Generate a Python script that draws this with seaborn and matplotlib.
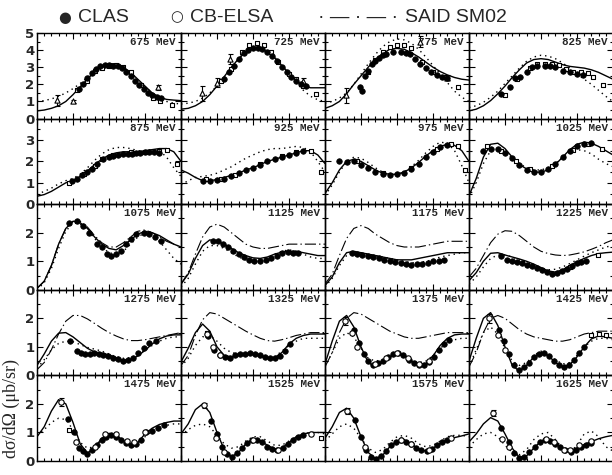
import matplotlib
matplotlib.use("Agg")
import matplotlib.pyplot as plt
from matplotlib.ticker import MultipleLocator
import seaborn as sns

sns.set_theme(style="white")
plt.rcParams['font.family'] = ['Liberation Sans', 'DejaVu Sans']
plt.rcParams['lines.scale_dashes'] = False

# ---------------- data ----------------
COS = [-1.0, -0.9, -0.8, -0.7, -0.6, -0.5, -0.4, -0.3, -0.2, -0.1, 0.0,
       0.1, 0.2, 0.3, 0.4, 0.5, 0.6, 0.7, 0.8, 0.9, 1.0]
ENERGIES = [675, 725, 775, 825, 875, 925, 975, 1025, 1075, 1125, 1175, 1225,
            1275, 1325, 1375, 1425, 1475, 1525, 1575, 1625]
ROW_YMAX = [5, 4, 3, 3, 3]

# 675 MeV
S675 = [0.45,0.5,0.6,0.75,1.0,1.4,1.85,2.3,2.75,3.05,3.2,3.2,3.0,2.7,2.3,1.9,1.5,1.25,1.12,1.08,1.05]
D675 = [1.0,1.05,1.15,1.3,1.5,1.75,2.05,2.4,2.75,3.05,3.2,3.2,3.0,2.65,2.25,1.85,1.5,1.2,1.0,0.9,0.85]
C675_X = [-0.42,-0.36,-0.3,-0.24,-0.18,-0.12,-0.06,0.0,0.06,0.12,0.18,0.24,0.3,0.36,0.42,0.48,0.54,0.6,0.66,0.72]
C675_Y = [1.75,2.0,2.35,2.65,2.9,3.05,3.15,3.15,3.1,3.05,2.95,2.75,2.5,2.2,1.95,1.7,1.5,1.35,1.25,1.2]
Q675_X = [-0.45,-0.3,-0.2,-0.1,0.0,0.1,0.2,0.3,0.45,0.61,0.71,0.88]
Q675_Y = [1.65,2.2,2.8,2.95,3.1,3.15,3.0,2.7,1.95,1.2,1.0,0.8]
T675_X = [-0.72,-0.5,0.68]
T675_Y = [1.06,1.0,1.84]
T675_E = [0.3,0.1,0.15]

# 725 MeV
S725 = [0.55,0.6,0.75,1.0,1.4,1.9,2.45,3.0,3.5,3.9,4.1,4.1,3.9,3.55,3.1,2.65,2.2,1.9,1.8,1.8,1.8]
D725 = [0.85,0.9,1.0,1.2,1.5,1.9,2.4,2.95,3.5,3.95,4.2,4.2,4.0,3.6,3.1,2.6,2.1,1.65,1.3,1.1,1.0]
C725_X = [-0.4,-0.33,-0.27,-0.2,-0.13,-0.07,0.0,0.07,0.13,0.2,0.27,0.33,0.4,0.47,0.53,0.6,0.67,0.73]
C725_Y = [2.3,2.7,3.1,3.5,3.85,4.0,4.1,4.1,4.05,3.9,3.65,3.35,3.0,2.7,2.45,2.2,2.0,1.9]
Q725_X = [-0.45,-0.3,-0.15,-0.05,0.05,0.15,0.25,0.35,0.5,0.6,0.7,0.87]
Q725_Y = [2.2,2.9,3.9,4.3,4.4,4.3,3.9,3.3,2.6,2.3,1.9,1.45]
T725_X = [-0.71,-0.5,-0.32,0.69]
T725_Y = [1.47,2.1,3.5,2.2]
T725_E = [0.45,0.25,0.3,0.2]

# 775 MeV
S775 = [0.6,0.75,1.0,1.45,2.0,2.5,3.0,3.45,3.8,4.05,4.1,4.05,3.85,3.6,3.3,3.0,2.75,2.55,2.4,2.3,2.25]
D775 = [0.9,1.0,1.2,1.5,2.0,2.6,3.2,3.75,4.2,4.5,4.65,4.6,4.4,4.05,3.6,3.1,2.6,2.1,1.6,1.25,1.0]
C775_X = [-0.51,-0.48,-0.45,-0.4,-0.35,-0.3,-0.25,-0.2,-0.15,-0.05,0.05,0.12,0.18,0.25,0.32,0.4,0.47,0.55,0.62,0.69]
C775_Y = [1.85,1.6,2.5,2.8,3.2,3.35,3.55,3.7,3.8,3.9,3.9,3.85,3.75,3.5,3.2,2.95,2.7,2.55,2.45,2.35]
Q775_X = [-0.4,-0.3,-0.2,-0.1,0.0,0.1,0.2,0.35,0.5,0.65,0.85]
Q775_Y = [2.7,3.4,3.9,4.2,4.3,4.3,4.1,3.3,2.7,2.45,1.85]
T775_X = [-0.71,0.32,0.69]
T775_Y = [1.35,4.5,2.4]
T775_E = [0.45,0.3,0.15]

# 825 MeV
S825 = [0.45,0.55,0.75,1.05,1.45,1.9,2.4,2.85,3.25,3.45,3.5,3.45,3.3,3.15,3.05,3.0,2.95,2.85,2.7,2.5,2.3]
D825 = [0.65,0.75,0.95,1.25,1.6,2.05,2.5,2.95,3.35,3.6,3.7,3.65,3.5,3.25,2.95,2.6,2.3,2.0,1.65,1.3,1.0]
C825_X = [-0.55,-0.43,-0.36,-0.29,-0.2,-0.13,-0.05,0.05,0.12,0.2,0.31,0.4,0.5,0.58]
C825_Y = [1.45,1.85,2.35,2.45,2.75,3.0,3.05,3.05,3.05,3.0,2.8,2.7,2.6,2.55]
Q825_X = [-0.5,-0.33,-0.15,-0.05,0.05,0.15,0.25,0.35,0.45,0.55,0.65,0.72,0.86]
Q825_Y = [1.35,2.3,2.95,3.2,3.2,3.2,3.15,2.9,2.75,2.7,2.65,2.45,1.95]

# 875 MeV
S875 = [0.37,0.45,0.6,0.8,1.0,1.1,1.3,1.55,1.85,2.1,2.3,2.4,2.45,2.45,2.45,2.5,2.55,2.6,2.6,2.45,2.0]
D875 = [0.45,0.6,0.75,0.95,1.1,1.2,1.4,1.7,2.05,2.35,2.55,2.65,2.65,2.6,2.5,2.5,2.55,2.5,2.2,1.7,1.3]
C875_X = [-0.52,-0.44,-0.38,-0.31,-0.24,-0.17,-0.08,0.0,0.06,0.13,0.2,0.26,0.32,0.38,0.43,0.5,0.55,0.62,0.7]
C875_Y = [1.08,1.2,1.35,1.5,1.65,1.9,2.1,2.2,2.25,2.3,2.35,2.35,2.35,2.4,2.4,2.45,2.45,2.45,2.4]
Q875_X = [-0.55,-0.35,-0.2,-0.1,0.05,0.3,0.5,0.7,0.8,0.95]
Q875_Y = [1.0,1.4,1.8,2.1,2.3,2.45,2.45,2.5,2.55,1.9]

# 925 MeV
S925 = [1.6,1.45,1.25,1.1,1.1,1.15,1.25,1.35,1.45,1.6,1.7,1.85,2.0,2.1,2.2,2.3,2.4,2.5,2.5,2.3,1.9]
D925 = [0.9,1.1,1.25,1.3,1.35,1.45,1.6,1.75,1.95,2.15,2.3,2.45,2.55,2.6,2.6,2.65,2.7,2.65,2.45,2.0,1.5]
C925_X = [-0.7,-0.6,-0.5,-0.4,-0.3,-0.2,-0.1,0.0,0.1,0.2,0.3,0.4,0.5,0.6,0.7]
C925_Y = [1.1,1.1,1.15,1.2,1.3,1.45,1.6,1.7,1.85,2.0,2.1,2.2,2.3,2.4,2.5]
Q925_X = [-0.65,-0.45,-0.25,0.1,0.4,0.6,0.8,0.95]
Q925_Y = [1.2,1.2,1.35,1.9,2.25,2.45,2.5,1.5]

# 975 MeV
S975 = [0.5,1.0,1.6,2.0,2.1,2.0,1.8,1.6,1.45,1.4,1.4,1.5,1.7,1.95,2.25,2.5,2.7,2.8,2.75,2.5,2.0]
D975 = [0.4,0.9,1.5,2.0,2.2,2.15,1.95,1.7,1.5,1.4,1.4,1.5,1.75,2.05,2.4,2.7,2.9,2.85,2.5,1.8,1.0]
C975_X = [-0.8,-0.7,-0.6,-0.5,-0.4,-0.3,-0.2,-0.1,0.0,0.1,0.2,0.3,0.4,0.5,0.6,0.7]
C975_Y = [2.0,1.95,2.0,1.85,1.7,1.5,1.4,1.35,1.4,1.45,1.65,1.9,2.2,2.45,2.65,2.75]
Q975_X = [-0.55,-0.2,0.2,0.55,0.75,0.85,0.95]
Q975_Y = [2.0,1.45,1.7,2.6,2.8,2.7,1.6]

# 1025 MeV
S1025 = [0.4,1.2,2.2,2.8,2.85,2.6,2.2,1.85,1.65,1.5,1.5,1.6,1.85,2.2,2.55,2.8,2.9,2.85,2.7,2.5,2.3]
D1025 = [0.3,1.0,1.9,2.5,2.6,2.45,2.15,1.9,1.7,1.6,1.6,1.7,1.9,2.2,2.45,2.55,2.5,2.35,2.1,1.9,1.75]
C1025_X = [-0.8,-0.7,-0.6,-0.5,-0.4,-0.3,-0.2,-0.1,0.0,0.1,0.2,0.3,0.4,0.5,0.6,0.7]
C1025_Y = [2.5,2.6,2.6,2.4,2.15,1.85,1.6,1.5,1.5,1.65,1.9,2.2,2.5,2.7,2.8,2.85]
Q1025_X = [-0.75,-0.55,-0.35,-0.15,0.15,0.45,0.65,0.85]
Q1025_Y = [2.7,2.5,2.0,1.65,1.8,2.55,2.8,2.6]

# 1075 MeV
S1075 = [0.05,0.3,0.85,1.6,2.15,2.4,2.35,2.15,1.85,1.6,1.45,1.4,1.55,1.75,1.95,2.05,2.0,1.9,1.75,1.6,1.5]
A1075 = [0.05,0.3,0.85,1.6,2.15,2.4,2.4,2.2,1.9,1.65,1.5,1.5,1.65,1.85,2.05,2.1,2.0,1.85,1.7,1.6,1.5]
D1075 = [0.0,0.25,0.75,1.45,2.05,2.35,2.3,2.1,1.8,1.5,1.3,1.25,1.35,1.6,1.85,2.0,1.9,1.7,1.4,1.1,0.9]
C1075_X = [-0.55,-0.45,-0.36,-0.28,-0.17,-0.1,-0.03,0.03,0.1,0.16,0.23,0.3,0.37,0.48,0.55,0.64,0.72]
C1075_Y = [2.33,2.4,2.25,2.0,1.6,1.5,1.25,1.2,1.25,1.37,1.6,1.78,1.95,2.0,1.95,1.84,1.7]

# 1125 MeV
S1125 = [0.2,0.55,1.1,1.55,1.75,1.7,1.6,1.45,1.3,1.2,1.12,1.1,1.15,1.25,1.32,1.35,1.35,1.3,1.25,1.2,1.2]
A1125 = [0.2,0.6,1.25,1.85,2.2,2.3,2.2,2.0,1.8,1.6,1.5,1.45,1.45,1.5,1.55,1.6,1.6,1.6,1.6,1.6,1.6]
D1125 = [0.1,0.4,0.9,1.35,1.55,1.55,1.45,1.3,1.15,1.05,1.0,1.0,1.1,1.25,1.35,1.4,1.35,1.25,1.15,1.1,1.1]
C1125_X = [-0.55,-0.49,-0.42,-0.35,-0.28,-0.2,-0.13,-0.05,0.02,0.1,0.18,0.25,0.33,0.4,0.48,0.55,0.62]
C1125_Y = [1.7,1.7,1.6,1.5,1.35,1.25,1.15,1.05,1.0,1.0,1.05,1.12,1.2,1.28,1.32,1.3,1.3]

# 1175 MeV
S1175 = [0.15,0.45,0.95,1.3,1.35,1.3,1.25,1.2,1.15,1.1,1.05,1.05,1.05,1.1,1.15,1.2,1.25,1.3,1.3,1.3,1.3]
A1175 = [0.2,0.55,1.2,1.8,2.15,2.25,2.15,1.95,1.8,1.65,1.55,1.5,1.5,1.5,1.55,1.6,1.65,1.7,1.7,1.7,1.7]
D1175 = [0.1,0.4,0.85,1.2,1.3,1.3,1.25,1.2,1.15,1.1,1.05,1.0,0.95,0.95,1.0,1.05,1.15,1.2,1.25,1.3,1.3]
C1175_X = [-0.62,-0.55,-0.48,-0.4,-0.33,-0.25,-0.18,-0.1,-0.03,0.05,0.12,0.2,0.28,0.35,0.43,0.5,0.58,0.65]
C1175_Y = [1.3,1.25,1.22,1.18,1.15,1.1,1.05,1.0,0.97,0.93,0.9,0.88,0.9,0.92,0.95,1.0,1.02,1.05]

# 1225 MeV
S1225 = [0.32,0.6,1.0,1.28,1.3,1.22,1.15,1.08,1.0,0.9,0.78,0.66,0.62,0.7,0.85,0.98,1.1,1.2,1.27,1.3,1.32]
A1225 = [0.45,0.75,1.2,1.65,1.95,2.07,2.05,1.9,1.7,1.5,1.35,1.27,1.22,1.2,1.22,1.27,1.33,1.42,1.52,1.65,1.75]
D1225 = [0.2,0.45,0.8,1.1,1.22,1.22,1.15,1.05,0.95,0.85,0.75,0.7,0.72,0.8,0.92,1.05,1.18,1.3,1.4,1.5,1.55]
C1225_X = [-0.55,-0.47,-0.4,-0.33,-0.26,-0.2,-0.13,-0.06,0.01,0.08,0.15,0.22,0.29,0.36,0.43,0.5,0.56,0.63]
C1225_Y = [1.19,1.05,1.0,0.97,0.93,0.88,0.83,0.75,0.7,0.63,0.57,0.6,0.65,0.73,0.85,0.93,0.98,1.02]
Q1225_X = [0.4,0.79]
Q1225_Y = [0.8,1.23]

# 1275 MeV
S1275 = [0.35,0.75,1.2,1.48,1.5,1.35,1.15,0.95,0.82,0.78,0.72,0.62,0.53,0.55,0.68,0.88,1.1,1.28,1.38,1.42,1.42]
A1275 = [0.2,0.45,0.9,1.45,1.9,2.1,2.1,1.98,1.82,1.65,1.5,1.38,1.28,1.22,1.22,1.25,1.3,1.35,1.4,1.45,1.5]
D1275 = [0.25,0.55,0.9,1.12,1.2,1.18,1.08,0.98,0.92,0.85,0.75,0.65,0.6,0.62,0.72,0.88,1.05,1.2,1.3,1.35,1.35]
C1275_X = [-0.54,-0.45,-0.39,-0.33,-0.27,-0.21,-0.14,-0.08,-0.01,0.06,0.13,0.2,0.27,0.33,0.4,0.48,0.56,0.65]
C1275_Y = [1.22,0.87,0.78,0.74,0.76,0.78,0.76,0.72,0.67,0.62,0.56,0.52,0.53,0.62,0.78,0.95,1.12,1.2]

# 1325 MeV
S1325 = [0.47,0.95,1.5,1.8,1.55,1.0,0.7,0.65,0.7,0.75,0.75,0.68,0.6,0.62,0.8,1.1,1.3,1.4,1.45,1.45,1.45]
A1325 = [0.35,0.7,1.4,1.95,2.2,2.15,2.0,1.85,1.7,1.55,1.42,1.3,1.22,1.2,1.25,1.32,1.4,1.45,1.5,1.5,1.5]
D1325 = [0.3,0.6,1.05,1.35,1.4,1.2,0.95,0.8,0.75,0.72,0.68,0.62,0.58,0.65,0.85,1.05,1.2,1.3,1.3,1.3,1.3]
C1325_X = [-0.62,-0.54,-0.46,-0.39,-0.32,-0.25,-0.18,-0.11,-0.04,0.03,0.1,0.17,0.24,0.31,0.38,0.45,0.52]
C1325_Y = [1.37,0.9,0.7,0.64,0.62,0.7,0.74,0.76,0.77,0.75,0.7,0.65,0.6,0.6,0.68,0.85,1.1]
B1325_X = [-0.64,-0.55,-0.46]
B1325_Y = [1.46,0.99,0.7]
B1325_E = [0.1,0.0,0.0]
Q1325_X = [-0.64]
Q1325_Y = [1.5]

# 1375 MeV
S1375 = [0.4,1.2,1.9,2.1,1.7,1.0,0.45,0.3,0.45,0.65,0.75,0.68,0.5,0.38,0.42,0.68,1.05,1.3,1.42,1.45,1.45]
A1375 = [0.3,0.8,1.5,2.0,2.2,2.15,2.0,1.85,1.7,1.55,1.45,1.35,1.3,1.3,1.35,1.4,1.45,1.5,1.5,1.5,1.5]
D1375 = [0.3,0.8,1.3,1.5,1.35,0.95,0.6,0.5,0.55,0.7,0.78,0.72,0.55,0.45,0.5,0.7,0.95,1.15,1.25,1.3,1.3]
C1375_X = [-0.6,-0.53,-0.46,-0.4,-0.33,-0.26,-0.19,-0.12,-0.05,0.02,0.09,0.16,0.23,0.3,0.37,0.44,0.51,0.58,0.65,0.72]
C1375_Y = [1.6,1.15,0.75,0.5,0.38,0.42,0.52,0.65,0.75,0.78,0.7,0.55,0.45,0.38,0.38,0.48,0.65,0.9,1.1,1.25]
B1375_X = [-0.72,-0.62,-0.55,-0.3,-0.15,0.0,0.15,0.3,0.45]
B1375_Y = [1.9,1.5,1.0,0.4,0.6,0.8,0.6,0.4,0.5]
B1375_E = [0.15,0,0,0,0,0,0,0,0]

# 1425 MeV
S1425 = [0.5,1.3,2.0,2.2,1.75,1.0,0.35,0.15,0.35,0.65,0.8,0.7,0.45,0.3,0.38,0.65,1.0,1.28,1.38,1.35,1.3]
A1425 = [0.3,0.8,1.5,2.0,2.1,2.0,1.8,1.6,1.45,1.35,1.3,1.25,1.2,1.2,1.25,1.35,1.45,1.5,1.55,1.55,1.55]
D1425 = [0.3,0.9,1.5,1.7,1.45,0.95,0.5,0.35,0.45,0.7,0.85,0.75,0.55,0.4,0.45,0.7,1.0,1.2,1.3,1.3,1.25]
C1425_X = [-0.58,-0.52,-0.45,-0.38,-0.31,-0.24,-0.17,-0.1,-0.03,0.04,0.11,0.18,0.25,0.32,0.39,0.46,0.53,0.6]
C1425_Y = [1.6,1.2,0.75,0.35,0.2,0.3,0.45,0.65,0.75,0.78,0.68,0.5,0.35,0.3,0.35,0.55,0.8,1.0]
B1425_X = [-0.72,-0.6,-0.5]
B1425_Y = [2.0,1.4,0.9]
B1425_E = [0.15,0,0]
Q1425_X = [0.7,0.8,0.9]
Q1425_Y = [1.4,1.45,1.4]

# 1475 MeV
S1475 = [0.85,1.2,1.75,2.15,2.0,1.35,0.6,0.28,0.45,0.8,0.97,0.9,0.72,0.56,0.65,0.95,1.15,1.28,1.35,1.4,1.4]
D1475 = [0.9,1.1,1.35,1.5,1.45,1.1,0.65,0.45,0.5,0.75,0.9,0.85,0.7,0.58,0.62,0.85,1.05,1.18,1.25,1.3,1.3]
C1475_X = [-0.57,-0.48,-0.42,-0.36,-0.3,-0.24,-0.17,-0.1,-0.04,0.03,0.1,0.17,0.24,0.31,0.38,0.45,0.52,0.6,0.68,0.76]
C1475_Y = [1.46,1.0,0.45,0.35,0.23,0.37,0.56,0.74,0.85,0.9,0.85,0.73,0.62,0.55,0.58,0.75,1.0,1.05,1.15,1.25]
B1475_X = [-0.66,-0.46,-0.2,-0.05,0.1,0.25,0.35,0.5]
B1475_Y = [2.07,0.67,0.5,0.95,0.95,0.7,0.65,1.0]
B1475_E = [0.15,0,0,0,0,0,0,0]
Q1475_X = [-0.55]
Q1475_Y = [1.08]

# 1525 MeV
S1525 = [0.95,1.3,1.8,2.0,1.7,1.0,0.4,0.15,0.3,0.6,0.78,0.72,0.55,0.42,0.45,0.65,0.85,0.95,1.0,1.0,1.0]
D1525 = [0.9,1.1,1.25,1.3,1.2,0.9,0.6,0.45,0.5,0.7,0.85,0.85,0.7,0.55,0.55,0.7,0.85,0.95,1.0,1.0,0.95]
C1525_X = [-0.58,-0.5,-0.43,-0.36,-0.29,-0.22,-0.15,-0.08,-0.01,0.06,0.13,0.2,0.27,0.34,0.41,0.48,0.55,0.62,0.7]
C1525_Y = [1.4,0.95,0.5,0.25,0.15,0.28,0.45,0.62,0.72,0.75,0.65,0.5,0.42,0.4,0.45,0.6,0.75,0.85,0.9]
B1525_X = [-0.68,-0.52,-0.4,0.0,0.35,0.8]
B1525_Y = [1.95,0.8,0.3,0.75,0.4,0.95]
B1525_E = [0.1,0,0,0,0,0]
Q1525_X = [0.95]
Q1525_Y = [0.8]

# 1575 MeV
S1575 = [0.8,1.2,1.7,1.85,1.5,0.85,0.3,0.08,0.2,0.5,0.7,0.75,0.6,0.42,0.35,0.45,0.62,0.75,0.82,0.88,0.95]
D1575 = [0.7,0.95,1.2,1.3,1.15,0.8,0.45,0.3,0.4,0.65,0.85,0.9,0.8,0.6,0.5,0.55,0.7,0.85,0.9,0.9,0.85]
C1575_X = [-0.58,-0.5,-0.43,-0.36,-0.29,-0.22,-0.15,-0.08,-0.01,0.06,0.13,0.2,0.27,0.34,0.41,0.48,0.55,0.62,0.69]
C1575_Y = [1.45,0.85,0.4,0.15,0.08,0.18,0.35,0.55,0.68,0.72,0.68,0.58,0.45,0.38,0.35,0.42,0.55,0.65,0.72]
B1575_X = [-0.7,-0.45,0.05,0.2,0.45,0.75]
B1575_Y = [1.75,0.5,0.75,0.6,0.4,0.8]
B1575_E = [0.1,0,0,0,0,0]

# 1625 MeV
S1625 = [0.67,0.95,1.3,1.52,1.4,0.95,0.45,0.12,0.18,0.45,0.7,0.78,0.65,0.45,0.38,0.45,0.58,0.68,0.78,0.85,0.9]
D1625 = [0.5,0.75,0.95,1.0,0.85,0.55,0.3,0.22,0.4,0.75,0.95,1.0,0.75,0.45,0.3,0.55,0.95,1.05,0.85,0.5,0.35]
C1625_X = [-0.55,-0.45,-0.37,-0.3,-0.23,-0.16,-0.09,-0.02,0.05,0.12,0.2,0.27,0.34,0.41,0.48,0.55,0.62,0.7]
C1625_Y = [1.15,0.67,0.27,0.12,0.14,0.32,0.5,0.67,0.73,0.7,0.6,0.5,0.38,0.32,0.4,0.5,0.56,0.62]
B1625_X = [-0.66,-0.54,-0.45,0.07,0.18,0.32,0.4,0.53,0.7]
B1625_Y = [1.67,0.77,0.5,0.78,0.68,0.4,0.4,0.55,0.7]
B1625_E = [0.1,0,0,0,0,0,0,0,0]

# panel table: (solid, dotted, dash-dot, CLAS, CB-ELSA, squares, triangles)
PANELS = {
    675: (S675, D675, None, (C675_X, C675_Y), None, (Q675_X, Q675_Y), (T675_X, T675_Y, T675_E)),
    725: (S725, D725, None, (C725_X, C725_Y), None, (Q725_X, Q725_Y), (T725_X, T725_Y, T725_E)),
    775: (S775, D775, None, (C775_X, C775_Y), None, (Q775_X, Q775_Y), (T775_X, T775_Y, T775_E)),
    825: (S825, D825, None, (C825_X, C825_Y), None, (Q825_X, Q825_Y), None),
    875: (S875, D875, None, (C875_X, C875_Y), None, (Q875_X, Q875_Y), None),
    925: (S925, D925, None, (C925_X, C925_Y), None, (Q925_X, Q925_Y), None),
    975: (S975, D975, None, (C975_X, C975_Y), None, (Q975_X, Q975_Y), None),
    1025: (S1025, D1025, None, (C1025_X, C1025_Y), None, (Q1025_X, Q1025_Y), None),
    1075: (S1075, D1075, A1075, (C1075_X, C1075_Y), None, None, None),
    1125: (S1125, D1125, A1125, (C1125_X, C1125_Y), None, None, None),
    1175: (S1175, D1175, A1175, (C1175_X, C1175_Y), None, None, None),
    1225: (S1225, D1225, A1225, (C1225_X, C1225_Y), None, (Q1225_X, Q1225_Y), None),
    1275: (S1275, D1275, A1275, (C1275_X, C1275_Y), None, None, None),
    1325: (S1325, D1325, A1325, (C1325_X, C1325_Y), (B1325_X, B1325_Y, B1325_E), (Q1325_X, Q1325_Y), None),
    1375: (S1375, D1375, A1375, (C1375_X, C1375_Y), (B1375_X, B1375_Y, B1375_E), None, None),
    1425: (S1425, D1425, A1425, (C1425_X, C1425_Y), (B1425_X, B1425_Y, B1425_E), (Q1425_X, Q1425_Y), None),
    1475: (S1475, D1475, None, (C1475_X, C1475_Y), (B1475_X, B1475_Y, B1475_E), (Q1475_X, Q1475_Y), None),
    1525: (S1525, D1525, None, (C1525_X, C1525_Y), (B1525_X, B1525_Y, B1525_E), (Q1525_X, Q1525_Y), None),
    1575: (S1575, D1575, None, (C1575_X, C1575_Y), (B1575_X, B1575_Y, B1575_E), None, None),
    1625: (S1625, D1625, None, (C1625_X, C1625_Y), (B1625_X, B1625_Y, B1625_E), None, None),
}

# ---------------- figure ----------------
FW, FH = 612, 475
fig = plt.figure(figsize=(FW / 100, FH / 100), dpi=100)
LEFT, TOP = 37 / FW, 33 / FH
CW, RH = 144 / FW, 85.6 / FH

DOT = (0, (1.0, 2.8))
DASHDOT = (0, (8.0, 2.2, 1.0, 2.2))

def errs(ax, x, y, e):
    xs = [a for a, b in zip(x, e) if b > 0]
    ys = [a for a, b in zip(y, e) if b > 0]
    es = [b for b in e if b > 0]
    if xs:
        ax.errorbar(xs, ys, yerr=es, fmt='none', ecolor='black',
                    elinewidth=0.8, capsize=1.8, capthick=0.8, zorder=3)

for i, E in enumerate(ENERGIES):
    r, c = divmod(i, 4)
    ymax = ROW_YMAX[r]
    ax = fig.add_axes([LEFT + c * CW, 1 - TOP - (r + 1) * RH, CW, RH])
    solid, dotted, dashdot, clas, elsa, squares, tri = PANELS[E]

    sns.lineplot(x=COS, y=dotted, ax=ax, color='black', linewidth=1.0,
                 linestyle=DOT, estimator=None, sort=False, legend=False, zorder=2)
    if dashdot is not None:
        sns.lineplot(x=COS, y=dashdot, ax=ax, color='black', linewidth=0.8,
                     linestyle=DASHDOT, estimator=None, sort=False, legend=False, zorder=2)
    sns.lineplot(x=COS, y=solid, ax=ax, color='black', linewidth=1.0,
                 estimator=None, sort=False, legend=False, zorder=2)

    if squares is not None:
        sns.scatterplot(x=squares[0], y=squares[1], ax=ax, marker='s', s=12,
                        color='white', edgecolor='black', linewidth=0.8, zorder=3, legend=False)
    if tri is not None:
        errs(ax, *tri)
        sns.scatterplot(x=tri[0], y=tri[1], ax=ax, marker='^', s=14,
                        color='white', edgecolor='black', linewidth=0.8, zorder=4, legend=False)
    sns.scatterplot(x=clas[0], y=clas[1], ax=ax, marker='o', s=16,
                    color='black', edgecolor='black', linewidth=0.5, zorder=4, legend=False)
    if elsa is not None:
        errs(ax, *elsa)
        sns.scatterplot(x=elsa[0], y=elsa[1], ax=ax, marker='o', s=15,
                        color='white', edgecolor='black', linewidth=0.8, zorder=5, legend=False)

    ax.set_xlim(-1, 1)
    ax.set_ylim(0, ymax)
    ax.set_xlabel('')
    ax.set_ylabel('')
    ax.xaxis.set_major_locator(MultipleLocator(0.5))
    ax.xaxis.set_minor_locator(MultipleLocator(0.1))
    ax.set_yticks(list(range(0, ymax + 1)))
    ax.yaxis.set_minor_locator(MultipleLocator(0.5))
    if c == 0:
        ax.set_yticklabels([str(v) if (v < ymax or r == 0) else '' for v in range(0, ymax + 1)],
                           fontsize=9.5, fontweight='bold', family=['DejaVu Sans'])
    ax.tick_params(which='both', direction='in', top=True, bottom=True, left=True, right=True,
                   labelbottom=False, labelleft=(c == 0), color='black', width=0.8, pad=2)
    ax.tick_params(which='major', length=4.5)
    ax.tick_params(which='minor', length=2.5)
    for sp in ax.spines.values():
        sp.set_color('black')
        sp.set_linewidth(1.0)
    ax.set_facecolor('none')
    ax.text(0.965, 0.895, f"{E} MeV", transform=ax.transAxes, ha='right', va='center',
            family=['Liberation Mono', 'DejaVu Sans Mono'], fontweight='bold', fontsize=7.8)

# legend (top)
ly = 1 - 17 / FH
fig.text(65 / FW, ly, '\u25CF', ha='center', va='center', fontsize=10.5, family=['DejaVu Sans'])
fig.text(78 / FW, ly, 'CLAS', ha='left', va='center', fontsize=14)
fig.text(177 / FW, ly, '\u25CB', ha='center', va='center', fontsize=10.5, family=['DejaVu Sans'])
fig.text(190 / FW, ly, 'CB-ELSA', ha='left', va='center', fontsize=14)
fig.text(318 / FW, ly, '\u00B7 \u2014 \u00B7 \u2014 \u00B7', ha='left', va='center', fontsize=14)
fig.text(405 / FW, ly, 'SAID SM02', ha='left', va='center', fontsize=14)

# y-axis label
fig.text(11 / FW, 1 - 408 / FH, 'd\u03C3/d\u03A9 (\u03BCb/sr)', rotation=90, ha='center', va='center',
         fontsize=13, family=['Liberation Serif', 'DejaVu Serif'])

fig.savefig('out.png', dpi=100)
